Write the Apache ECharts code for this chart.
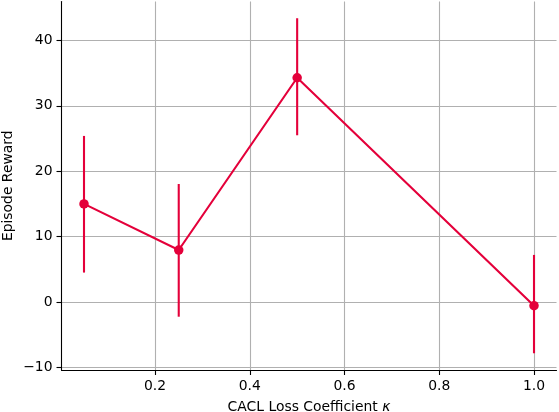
<!DOCTYPE html>
<html>
<head>
<meta charset="utf-8">
<script src="https://cdn.jsdelivr.net/npm/echarts@6/dist/echarts.min.js"></script>
<style>html,body{margin:0;padding:0;background:#fff}#c{width:559px;height:412px}</style>
</head>
<body>
<div id="c"></div>
<script>
const kappa = [0.05, 0.25, 0.5, 1.0];
const reward = [15.0, 7.95, 34.3, -0.57];
const errLow = [4.5, -2.25, 25.5, -7.84];
const errHigh = [25.4, 18.05, 43.4, 7.2];
const xTicks = [0.2, 0.4, 0.6, 0.8, 1.0];
const yTicks = [-10, 0, 10, 20, 30, 40];

const red = '#e4003a';
const font = 'DejaVu Sans';
const fs = 13.9;
const chart = echarts.init(document.getElementById('c'), null, {renderer: 'canvas'});

chart.setOption({
  animation: false,
  backgroundColor: '#fff',
  grid: {left: 61.5, right: 2.5, top: 1.5, bottom: 42, containLabel: false, outerBoundsMode: 'none'},
  xAxis: {
    type: 'value', min: 0.0025, max: 1.0475,
    name: 'CACL Loss Coefficient {i|κ}', nameLocation: 'middle', nameGap: 30, nameMoveOverlap: false,
    nameTextStyle: {fontFamily: font, fontSize: fs, color: '#000',
      rich: {i: {fontFamily: font, fontSize: fs, fontStyle: 'italic', color: '#000'}}},
    axisLine: {show: true, onZero: false, lineStyle: {color: '#000', width: 1.1}},
    axisTick: {show: true, length: 5, customValues: xTicks, lineStyle: {color: '#000', width: 1.1}},
    axisLabel: {customValues: xTicks, margin: 9, fontFamily: font, fontSize: fs, color: '#000',
      formatter: v => v.toFixed(1)},
    splitLine: {show: true, lineStyle: {color: '#b0b0b0', width: 1.1}}
  },
  yAxis: {
    type: 'value', min: -10.4, max: 45.96,
    name: 'Episode Reward', nameLocation: 'middle', nameGap: 46.5, nameRotate: 90, nameMoveOverlap: false,
    nameTextStyle: {fontFamily: font, fontSize: fs, color: '#000'},
    axisLine: {show: true, onZero: false, lineStyle: {color: '#000', width: 1.1}},
    axisTick: {show: true, length: 5, customValues: yTicks, lineStyle: {color: '#000', width: 1.1}},
    axisLabel: {customValues: yTicks, margin: 9, fontFamily: font, fontSize: fs, color: '#000',
      formatter: v => v < 0 ? '\u2212' + Math.abs(v) : String(v)},
    splitLine: {show: true, lineStyle: {color: '#b0b0b0', width: 1.1}}
  },
  series: [
    {
      type: 'custom',
      z: 2,
      data: kappa.map((k, i) => [k, errLow[i], errHigh[i]]),
      renderItem: function (params, api) {
        const p1 = api.coord([api.value(0), api.value(1)]);
        const p2 = api.coord([api.value(0), api.value(2)]);
        return {type: 'line', shape: {x1: p1[0], y1: p1[1], x2: p2[0], y2: p2[1]},
          style: {stroke: red, lineWidth: 2.1}};
      }
    },
    {
      type: 'line',
      z: 3,
      clip: false,
      data: kappa.map((k, i) => [k, reward[i]]),
      symbol: 'circle', symbolSize: 9.5,
      itemStyle: {color: red},
      lineStyle: {color: red, width: 2.1}
    }
  ]
});
</script>
</body>
</html>
